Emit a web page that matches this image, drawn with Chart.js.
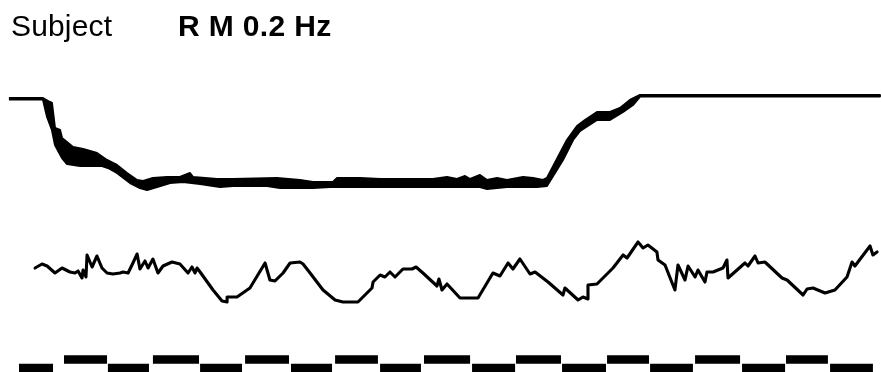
<!DOCTYPE html>
<html>
<head>
<meta charset="utf-8">
<script src="https://cdn.jsdelivr.net/npm/chart.js@4/dist/chart.umd.min.js"></script>
<style>
  html, body { margin: 0; padding: 0; background: #ffffff; }
  #wrap { position: relative; width: 881px; height: 372px; overflow: hidden; }
  #chart { position: absolute; left: 0; top: 0; }
  .ttl { position: absolute; top: 11px; font-family: "Liberation Sans", Arial, Helvetica, sans-serif;
         font-size: 30px; line-height: 30px; color: #000; white-space: nowrap; }
  #t1 { left: 11px; font-weight: normal; letter-spacing: 0.15px; }
  #t2 { left: 178px; font-weight: bold; letter-spacing: 0.35px; }
</style>
</head>
<body>
<div id="wrap">
  <canvas id="chart" width="881" height="372"></canvas>
  <div class="ttl" id="t1">Subject</div>
  <div class="ttl" id="t2">R M 0.2 Hz</div>
</div>
<script>
// ---- DATA (time in seconds, amplitude in arbitrary trace units) ----
// Upper edge of the thick position trace envelope: [time, value]
const positionUpper = [
  [-0.56,27.4],[1.33,27.4],[1.72,27.0],[1.83,26.9],[2.00,24.4],[2.28,24.2],[2.39,23.4],
  [3.00,22.5],[3.56,22.3],[4.33,21.9],[4.89,21.2],[5.44,20.7],[6.00,19.9],[6.56,19.2],
  [6.89,19.1],[7.44,19.4],[8.22,19.5],[8.94,19.5],[9.50,19.9],[9.67,19.5],[11.00,19.3],
  [11.89,19.3],[14.33,19.4],[15.61,19.2],[16.33,19.0],[17.44,19.0],[17.67,19.4],[18.94,19.4],
  [20.06,19.3],[23.00,19.3],[23.78,19.5],[24.33,19.3],[24.78,19.6],[25.06,19.3],[25.61,19.7],
  [26.00,19.2],[26.56,19.4],[27.11,19.2],[28.00,19.5],[28.56,19.4],[29.11,19.2],[29.33,19.4],
  [30.44,23.2],[31.00,24.6],[31.44,25.2],[32.11,26.0],[32.83,26.0],[33.39,26.4],[33.94,27.2],
  [34.50,27.7],[47.83,27.7]
];
// Lower edge of the thick position trace envelope: [time, value]
const positionLower = [
  [-0.56,27.25],[1.33,27.25],[1.56,25.5],[1.83,24.2],[2.00,22.7],[2.39,21.4],[2.67,20.8],
  [3.39,20.6],[4.61,20.6],[4.94,20.4],[5.44,19.9],[6.17,18.9],[6.72,18.4],[7.11,18.2],
  [7.67,18.5],[8.39,18.9],[9.11,19.0],[10.06,18.8],[11.17,18.5],[11.89,18.6],[13.78,18.6],
  [14.50,18.4],[16.33,18.4],[17.28,18.5],[21.89,18.5],[25.61,18.5],[26.00,18.3],[27.11,18.5],
  [28.78,18.5],[29.33,18.6],[30.22,21.2],[30.78,23.2],[31.17,24.1],[32.11,25.2],[32.83,25.2],
  [33.56,26.0],[34.11,26.7],[34.50,27.55],[47.83,27.55]
];
// Middle (response) trace: [time, value]
const responseTrace = [
  [0.89,10.4],[1.28,10.8],[1.56,10.6],[2.00,9.9],[2.39,10.4],[2.83,10.0],[3.11,9.9],[3.28,10.1],
  [3.50,9.4],[3.56,10.2],[3.72,9.5],[3.78,11.7],[4.06,10.5],[4.33,11.6],[4.61,10.4],[4.89,9.9],
  [5.22,9.8],[5.61,9.9],[5.78,10.0],[6.06,9.9],[6.33,10.9],[6.56,11.8],[6.72,10.3],[7.00,11.1],
  [7.17,10.4],[7.44,11.3],[7.72,9.9],[8.00,10.6],[8.50,11.0],[8.94,10.8],[9.39,9.9],[9.61,10.5],
  [9.78,9.9],[9.89,10.4],[10.06,10.0],[10.78,8.2],[11.28,7.1],[11.56,7.0],[11.56,7.5],[12.11,7.5],
  [12.83,8.4],[13.67,10.9],[13.94,9.2],[14.22,9.1],[14.67,9.9],[15.06,10.9],[15.61,11.0],[15.78,10.8],
  [16.17,9.9],[16.89,8.2],[17.56,7.2],[18.00,7.0],[18.83,7.0],[19.61,8.4],[19.67,9.0],[20.06,9.7],
  [20.33,9.5],[20.61,10.0],[20.89,9.5],[21.33,10.3],[21.83,10.3],[22.06,10.5],[22.44,9.9],[23.22,8.6],
  [23.33,9.3],[23.50,8.2],[23.78,8.8],[24.50,7.4],[25.50,7.4],[26.33,9.9],[26.72,9.6],[27.17,10.9],
  [27.44,10.3],[27.83,11.3],[28.39,9.8],[28.67,10.0],[29.39,9.0],[30.22,7.7],[30.33,8.4],[31.06,7.2],
  [31.33,7.5],[31.61,7.3],[31.61,8.7],[32.11,8.8],[33.00,10.4],[33.56,11.7],[33.78,11.4],[34.39,13.0],
  [34.67,12.4],[34.94,12.7],[35.44,12.0],[35.50,11.2],[35.89,10.7],[36.44,8.2],[36.61,10.7],[37.00,9.2],
  [37.17,10.6],[37.56,9.5],[37.72,10.2],[38.11,9.0],[38.22,10.0],[38.56,10.0],[39.11,10.4],[39.33,11.2],
  [39.39,9.4],[40.33,10.9],[40.50,10.6],[40.89,11.6],[41.06,10.9],[41.44,11.0],[42.39,9.4],[42.67,9.2],
  [43.56,7.7],[43.78,8.3],[44.11,8.4],[44.78,7.9],[45.33,8.2],[46.00,9.5],[46.28,11.0],[46.44,10.6],
  [47.28,12.6],[47.44,11.7],[47.67,12.0]
];
// Stimulus (0.2 Hz square wave): segment start, end (s) and level (-1 / +1)
const stimStart = [0.00,2.50,4.94,7.44,10.06,12.56,15.11,17.56,20.06,22.50,25.17,27.61,30.17,32.67,35.06,37.56,40.17,42.61,45.06];
const stimEnd   = [1.89,4.89,7.22,10.00,12.39,15.00,17.39,19.94,22.33,25.06,27.56,30.11,32.61,35.00,37.44,40.06,42.56,44.94,47.44];
const stimLevel = [-1,1,-1,1,-1,1,-1,1,-1,1,-1,1,-1,1,-1,1,-1,1,-1];

// ---- build datasets ----
const toXY = arr => arr.map(p => ({ x: p[0], y: p[1] }));
// closed envelope: along the upper edge, then back along the lower edge
const envelope = toXY(positionUpper).concat(toXY(positionLower).reverse());
const stimPoints = [];
stimStart.forEach((s, i) => {
  stimPoints.push({ x: s, y: stimLevel[i] });
  stimPoints.push({ x: stimEnd[i], y: stimLevel[i] });
  stimPoints.push({ x: stimEnd[i], y: null });
});

new Chart(document.getElementById('chart'), {
  type: 'scatter',
  data: {
    datasets: [
      { label: 'Position', data: envelope, showLine: true, yAxisID: 'y',
        borderColor: '#000', borderWidth: 2, pointRadius: 0, fill: 'shape',
        backgroundColor: '#000', tension: 0, borderJoinStyle: 'round' },
      { label: 'Response', data: toXY(responseTrace), showLine: true, yAxisID: 'y',
        borderColor: '#000', borderWidth: 3.1, pointRadius: 0, fill: false, tension: 0,
        borderJoinStyle: 'round', borderCapStyle: 'round' },
      { label: 'Stimulus', data: stimPoints, showLine: true, yAxisID: 'yStim', spanGaps: false,
        borderColor: '#000', borderWidth: 8.5, pointRadius: 0, fill: false,
        borderCapStyle: 'butt' }
    ]
  },
  options: {
    responsive: false,
    animation: false,
    devicePixelRatio: 1,
    layout: { padding: 0 },
    plugins: { legend: { display: false }, tooltip: { enabled: false }, title: { display: false } },
    scales: {
      x: { type: 'linear', display: false, min: -1.056, max: 47.889 },
      y: { type: 'linear', display: false, min: 0, max: 37.2 },
      yStim: { type: 'linear', display: false, min: -1.941, max: 85.59 }
    }
  }
});
</script>
</body>
</html>
